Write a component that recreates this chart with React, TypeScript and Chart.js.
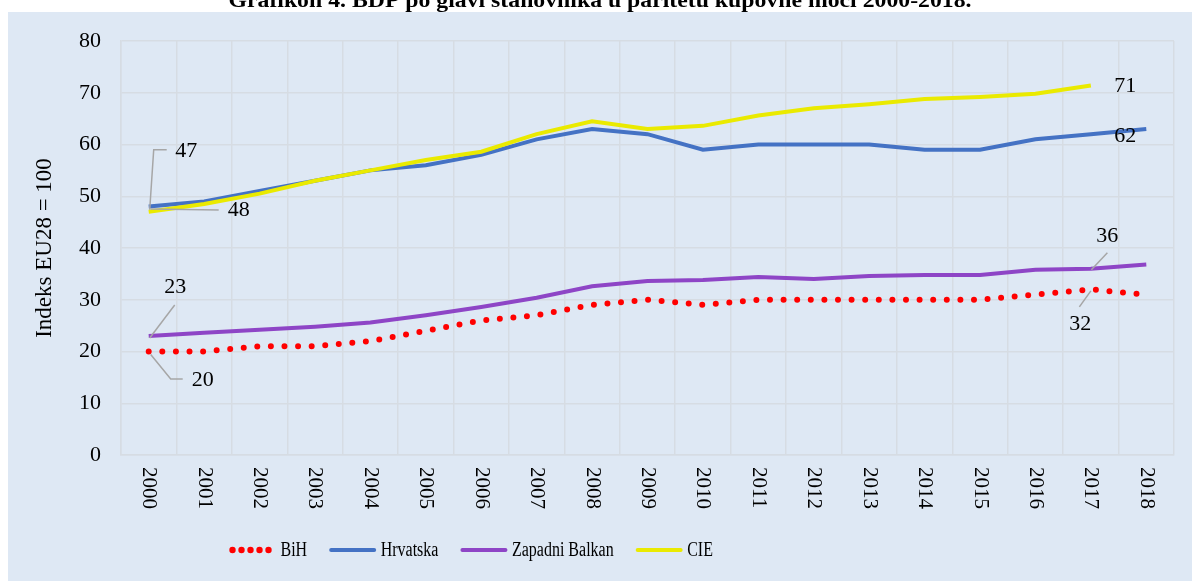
import { useEffect, useRef } from "react";
import { Chart, registerables } from "chart.js";

Chart.register(...registerables);

const title = "Grafikon 4. BDP po glavi stanovnika u paritetu kupovne moći 2000-2018.";
const yAxisTitle = "Indeks EU28 = 100";
const years = ["2000", "2001", "2002", "2003", "2004", "2005", "2006", "2007", "2008", "2009", "2010", "2011", "2012", "2013", "2014", "2015", "2016", "2017", "2018"];
const bih = [20, 20, 21, 21, 22, 24, 26, 27, 29, 30, 29, 30, 30, 30, 30, 30, 31, 32, 31];
const hrvatska = [48, 49, 51, 53, 55, 56, 58, 61, 63, 62, 59, 60, 60, 60, 59, 59, 61, 62, 63];
const zapadniBalkan = [23, 23.6, 24.2, 24.8, 25.6, 27, 28.6, 30.4, 32.6, 33.6, 33.8, 34.4, 34, 34.6, 34.8, 34.8, 35.8, 36, 36.8];
const cie = [47, 48.5, 50.5, 53, 55, 57, 58.6, 62, 64.5, 63, 63.6, 65.6, 67, 67.8, 68.8, 69.2, 69.8, 71.4, null];
const seriesNames = ["BiH", "Hrvatska", "Zapadni Balkan", "CIE"];
const seriesColors = ["#FF0000", "#4472C4", "#8E45C6", "#EAEA00"];

const FONT = '"Liberation Serif", "Times New Roman", serif';
const BG = "#DEE8F4";
const GRID = "#D6DCE3";

// data label annotations: dataset index, data index, label offset, leader path (offsets relative to point)
type Ann = { ds: number; idx: number; lx: number; ly: number; path: number[][] };
const annotations: Ann[] = [
  { ds: 3, idx: 0, lx: 37.5, ly: -61, path: [[1, -2], [5, -62], [18, -62]] },
  { ds: 1, idx: 0, lx: 90, ly: 3.5, path: [[2, 2.5], [70, 3.5]] },
  { ds: 2, idx: 0, lx: 26.5, ly: -48.5, path: [[1, 2], [26, -31]] },
  { ds: 0, idx: 0, lx: 54, ly: 28.5, path: [[2, 3], [22, 27.5], [34, 27.5]] },
  { ds: 3, idx: 17, lx: 34.5, ly: 1, path: [] },
  { ds: 1, idx: 17, lx: 34.5, ly: 2.5, path: [] },
  { ds: 2, idx: 17, lx: 16.5, ly: -32, path: [[0.5, 1], [16.5, -16]] },
  { ds: 0, idx: 17, lx: -10.5, ly: 35, path: [[0, 1.5], [-11.5, 17.5]] },
];

const customPlugin = {
  id: "custom",
  beforeDraw(chart: any) {
    const ctx = chart.ctx;
    ctx.save();
    ctx.fillStyle = "#FFFFFF";
    ctx.fillRect(0, 0, chart.width, chart.height);
    ctx.fillStyle = BG;
    ctx.fillRect(8, 12, chart.width - 8, chart.height - 12);
    // title (partially cut at top)
    ctx.font = `bold 21px ${FONT}`;
    const w = ctx.measureText(title).width;
    const s = 743 / w;
    ctx.translate(600, 7);
    ctx.scale(s, 1);
    ctx.fillStyle = "#000";
    ctx.textAlign = "center";
    ctx.textBaseline = "alphabetic";
    ctx.fillText(title, 0, 0);
    ctx.restore();
  },
  afterDraw(chart: any) {
    const ctx = chart.ctx;
    const xs = chart.scales.x;
    const ys = chart.scales.y;
    const area = chart.chartArea;

    // x tick labels, rotated clockwise
    ctx.save();
    ctx.fillStyle = "#000";
    ctx.font = `21px ${FONT}`;
    ctx.textAlign = "left";
    ctx.textBaseline = "middle";
    years.forEach((y, i) => {
      const x = xs.getPixelForValue(i);
      ctx.save();
      ctx.translate(x, area.bottom + 12);
      ctx.rotate(Math.PI / 2);
      ctx.fillText(y, 0, 0);
      ctx.restore();
    });
    ctx.restore();

    // y axis title
    ctx.save();
    ctx.fillStyle = "#000";
    ctx.font = `23px ${FONT}`;
    ctx.textAlign = "center";
    ctx.textBaseline = "middle";
    ctx.translate(45, (area.top + area.bottom) / 2);
    ctx.rotate(-Math.PI / 2);
    ctx.fillText(yAxisTitle, 0, 0);
    ctx.restore();

    // data labels with leader lines
    const dataSets = [bih, hrvatska, zapadniBalkan, cie];
    ctx.save();
    ctx.strokeStyle = "#A6A6A6";
    ctx.lineWidth = 1.5;
    ctx.font = `22px ${FONT}`;
    ctx.fillStyle = "#000";
    ctx.textAlign = "center";
    ctx.textBaseline = "middle";
    annotations.forEach((a) => {
      const v = dataSets[a.ds][a.idx] as number;
      const px = xs.getPixelForValue(a.idx);
      const py = ys.getPixelForValue(v);
      if (a.path.length > 1) {
        ctx.beginPath();
        a.path.forEach((p, k) => {
          if (k === 0) ctx.moveTo(px + p[0], py + p[1]);
          else ctx.lineTo(px + p[0], py + p[1]);
        });
        ctx.stroke();
      }
      ctx.fillText(String(Math.round(v)), px + a.lx, py + a.ly);
    });
    ctx.restore();

    // legend
    ctx.save();
    const ly = 550;
    let lx = 230;
    const tScale = 0.8;
    ctx.font = `20px ${FONT}`;
    ctx.textBaseline = "middle";
    ctx.textAlign = "left";
    seriesNames.forEach((name, i) => {
      if (i === 0) {
        ctx.fillStyle = seriesColors[0];
        for (let k = 0; k < 5; k++) {
          ctx.beginPath();
          ctx.arc(lx + 2.5 + k * 9, ly, 3.2, 0, Math.PI * 2);
          ctx.fill();
        }
      } else {
        ctx.strokeStyle = seriesColors[i];
        ctx.lineWidth = 4;
        ctx.lineCap = "round";
        ctx.beginPath();
        ctx.moveTo(lx + 1, ly);
        ctx.lineTo(lx + 44, ly);
        ctx.stroke();
      }
      const tx = lx + 50.5;
      const tw = ctx.measureText(name).width * tScale;
      ctx.save();
      ctx.translate(tx, ly + 1);
      ctx.scale(tScale, 1);
      ctx.fillStyle = "#000";
      ctx.fillText(name, 0, 0);
      ctx.restore();
      lx = tx + tw + 23;
    });
    ctx.restore();
  },
};

export default function App() {
  const ref = useRef<HTMLCanvasElement | null>(null);
  useEffect(() => {
    if (!ref.current) return;
    const chart = new Chart(ref.current, {
      type: "line",
      data: {
        labels: years,
        datasets: [
          {
            label: seriesNames[0],
            data: bih,
            borderColor: seriesColors[0],
            backgroundColor: seriesColors[0],
            borderWidth: 6,
            borderDash: [0, 13.6],
            borderCapStyle: "round",
            pointRadius: 0,
            tension: 0,
            order: 4,
          },
          {
            label: seriesNames[1],
            data: hrvatska,
            borderColor: seriesColors[1],
            backgroundColor: seriesColors[1],
            borderWidth: 4,
            pointRadius: 0,
            tension: 0,
            order: 3,
          },
          {
            label: seriesNames[2],
            data: zapadniBalkan,
            borderColor: seriesColors[2],
            backgroundColor: seriesColors[2],
            borderWidth: 4,
            pointRadius: 0,
            tension: 0,
            order: 2,
          },
          {
            label: seriesNames[3],
            data: cie,
            borderColor: seriesColors[3],
            backgroundColor: seriesColors[3],
            borderWidth: 4,
            pointRadius: 0,
            tension: 0,
            order: 1,
          },
        ],
      },
      options: {
        responsive: false,
        animation: false,
        layout: { padding: { left: 8, top: 41, right: 18, bottom: 0 } },
        plugins: {
          legend: { display: false },
          tooltip: { enabled: false },
          title: { display: false },
        },
        scales: {
          x: {
            type: "category",
            offset: true,
            grid: { color: GRID, offset: true, drawTicks: false, lineWidth: 1.5 },
            border: { color: GRID, width: 1.5 },
            ticks: { display: false },
            afterFit: (s: any) => {
              s.height = 126;
            },
          },
          y: {
            min: 0,
            max: 80,
            grid: { color: GRID, drawTicks: false, lineWidth: 1.5 },
            border: { color: GRID, width: 1.5 },
            ticks: {
              stepSize: 10,
              padding: 20,
              color: "#000",
              font: { family: FONT, size: 22 },
            },
            afterFit: (s: any) => {
              s.width = 113;
            },
          },
        },
      },
      plugins: [customPlugin],
    } as any);
    return () => chart.destroy();
  }, []);
  return (
    <canvas
      ref={ref}
      width={1192}
      height={581}
      style={{ position: "fixed", left: 0, top: 0, display: "block" }}
    />
  );
}
